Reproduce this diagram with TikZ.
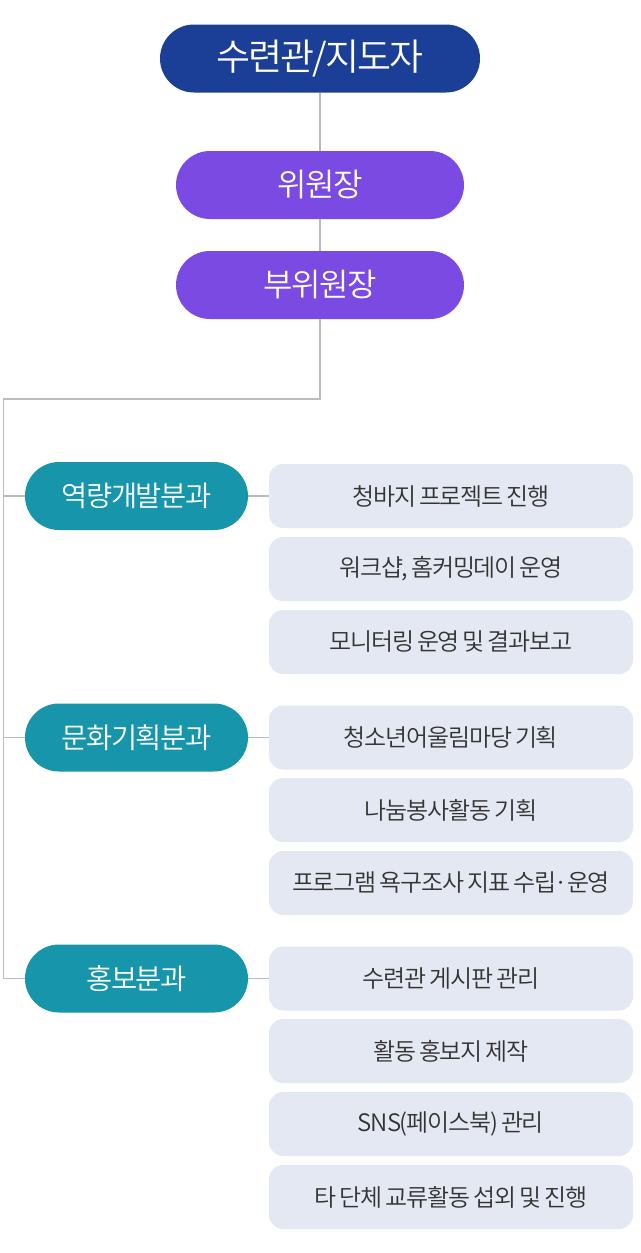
\documentclass[tikz,border=0pt]{standalone}
\usepackage{fontspec}
\setmainfont{Noto Sans CJK KR}[LetterSpace=-4]
\newfontfamily\kr{Noto Sans CJK KR DemiLight}[LetterSpace=-5,WordSpace=0.7]
\definecolor{topblue}{HTML}{1B3F97}
\definecolor{purp}{HTML}{7A4AE3}
\definecolor{teal}{HTML}{1795AB}
\definecolor{lite}{HTML}{E4E8F3}
\definecolor{linec}{HTML}{BBBBBB}
\definecolor{txt}{HTML}{333333}
\begin{document}
\begin{tikzpicture}[x=1pt,y=-1pt,
  pill/.style={rounded corners=34pt,inner sep=0pt,minimum height=68pt,text=white},
  topbox/.style={pill,fill=topblue,minimum width=320pt,font=\kr\fontsize{37}{42}\selectfont},
  midbox/.style={pill,fill=purp,minimum width=288pt,font=\kr\fontsize{32}{38}\selectfont},
  secbox/.style={pill,fill=teal,minimum width=223pt,font=\kr\fontsize{28.5}{34}\selectfont},
  taskbox/.style={rounded corners=14pt,inner sep=0pt,fill=lite,minimum width=364pt,minimum height=64pt,text=txt,font=\kr\fontsize{24}{28}\selectfont},
  conn/.style={draw=linec,line width=1.5pt}]
\useasboundingbox (0,0) rectangle (640,1253);
\node[topbox] (top) at (320,58.5) {수련관/지도자};
\node[midbox] (wi) at (320,185) {위원장};
\node[midbox] (bu) at (320,285) {부위원장};
\node[secbox] (s1) at (136.5,496) {역량개발분과};
\node[secbox] (s2) at (136.5,737.5) {문화기획분과};
\node[secbox] (s3) at (136.5,978.5) {홍보분과};
\node[taskbox] (t11) at (451,496) {청바지 프로젝트 진행};
\node[taskbox] (t12) at (451,569) {워크샵, 홈커밍데이 운영};
\node[taskbox] (t13) at (451,642) {모니터링 운영 및 결과보고};
\node[taskbox] (t21) at (451,737.5) {청소년어울림마당 기획};
\node[taskbox] (t22) at (451,810) {나눔봉사활동 기획};
\node[taskbox] (t23) at (451,883) {프로그램 욕구조사 지표 수립·운영};
\node[taskbox] (t31) at (451,978.5) {수련관 게시판 관리};
\node[taskbox] (t32) at (451,1051) {활동 홍보지 제작};
\node[taskbox] (t33) at (451,1124) {SNS(페이스북) 관리};
\node[taskbox] (t34) at (451,1197) {타 단체 교류활동 섭외 및 진행};
\coordinate (corner) at (3.5,399);
\draw[conn] (top.south) -- (wi.north);
\draw[conn] (wi.south) -- (bu.north);
\draw[conn] (bu.south) |- (corner) |- (s3.west);
\draw[conn] (corner) |- (s1.west);
\draw[conn] (corner) |- (s2.west);
\draw[conn] (s1.east) -- (t11.west);
\draw[conn] (s2.east) -- (t21.west);
\draw[conn] (s3.east) -- (t31.west);
\end{tikzpicture}
\end{document}
